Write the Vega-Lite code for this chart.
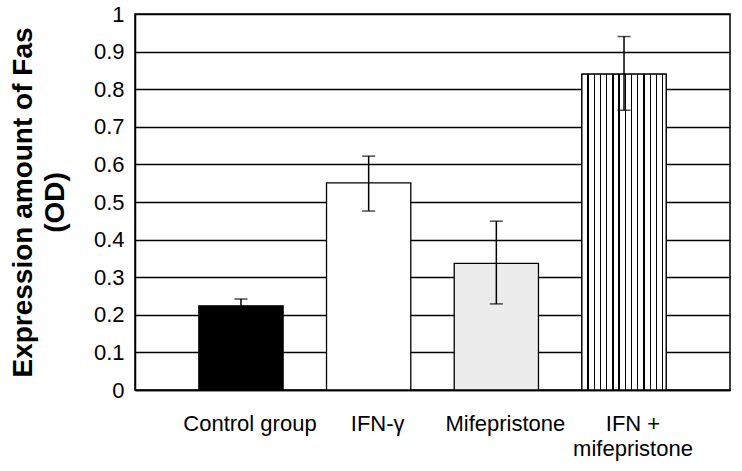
{
  "$schema": "https://vega.github.io/schema/vega-lite/v6.json",
  "width": 595,
  "height": 376,
  "autosize": {"type": "none"},
  "padding": {"left": 135, "top": 14, "right": 12, "bottom": 81},
  "background": "white",
  "config": {
    "view": {"stroke": "black", "strokeWidth": 1.5},
    "font": "Liberation Sans",
    "axisY": {
      "grid": true,
      "gridColor": "black",
      "gridWidth": 1.3,
      "gridOpacity": 1,
      "ticks": false,
      "domainColor": "black",
      "domainWidth": 1.5,
      "labelFontSize": 22,
      "labelColor": "black",
      "labelPadding": 11,
      "labelOverlap": false,
      "titleFontSize": 28,
      "titleFontWeight": "bold",
      "titleColor": "black",
      "titleLineHeight": 32,
      "titlePadding": 24
    }
  },
  "data": {
    "values": [
      {"group": "Control group", "mean": 0.224, "lo": 0.206, "hi": 0.242},
      {"group": "IFN-γ", "mean": 0.551, "lo": 0.476, "hi": 0.622},
      {"group": "Mifepristone", "mean": 0.337, "lo": 0.229, "hi": 0.449},
      {"group": "IFN + mifepristone", "mean": 0.840, "lo": 0.744, "hi": 0.940}
    ]
  },
  "encoding": {
    "x": {
      "field": "group",
      "type": "nominal",
      "sort": null,
      "scale": {"paddingInner": 0.34, "paddingOuter": 0.5},
      "axis": {
        "title": null,
        "labelAngle": 0,
        "labelFontSize": 22,
        "labelColor": "black",
        "labelPadding": 23,
        "labelOffset": 9,
        "labelLineHeight": 25,
        "ticks": false,
        "domainColor": "black",
        "domainWidth": 1.5,
        "labelExpr": "datum.value === 'IFN + mifepristone' ? ['IFN +', 'mifepristone'] : datum.value"
      }
    }
  },
  "layer": [
    {
      "mark": {"type": "bar", "stroke": "black", "strokeWidth": 1.3},
      "encoding": {
        "y": {
          "field": "mean",
          "type": "quantitative",
          "scale": {"domain": [0, 1]},
          "axis": {
            "values": [0, 0.1, 0.2, 0.3, 0.4, 0.5, 0.6, 0.7, 0.8, 0.9, 1],
            "format": "~g",
            "title": ["Expression amount of Fas", "(OD)"]
          }
        },
        "fill": {
          "field": "group",
          "type": "nominal",
          "scale": {
            "domain": ["Control group", "IFN-γ", "Mifepristone", "IFN + mifepristone"],
            "range": ["#000000", "#ffffff", "#ececec", "#ffffff"]
          },
          "legend": null
        }
      }
    },
    {
      "transform": [{"filter": "datum.group === 'IFN + mifepristone'"}],
      "mark": {
        "type": "bar",
        "stroke": "black",
        "strokeWidth": 1.3,
        "fill": {
          "gradient": "linear",
          "x1": 0, "x2": 1, "y1": 0, "y2": 0,
          "stops": [
            {"offset": 0, "color": "white"},
            {"offset": 0.066, "color": "white"}, {"offset": 0.066, "color": "black"}, {"offset": 0.082, "color": "black"}, {"offset": 0.082, "color": "white"},
            {"offset": 0.140, "color": "white"}, {"offset": 0.140, "color": "black"}, {"offset": 0.156, "color": "black"}, {"offset": 0.156, "color": "white"},
            {"offset": 0.213, "color": "white"}, {"offset": 0.213, "color": "black"}, {"offset": 0.229, "color": "black"}, {"offset": 0.229, "color": "white"},
            {"offset": 0.287, "color": "white"}, {"offset": 0.287, "color": "black"}, {"offset": 0.303, "color": "black"}, {"offset": 0.303, "color": "white"},
            {"offset": 0.361, "color": "white"}, {"offset": 0.361, "color": "black"}, {"offset": 0.377, "color": "black"}, {"offset": 0.377, "color": "white"},
            {"offset": 0.434, "color": "white"}, {"offset": 0.434, "color": "black"}, {"offset": 0.450, "color": "black"}, {"offset": 0.450, "color": "white"},
            {"offset": 0.508, "color": "white"}, {"offset": 0.508, "color": "black"}, {"offset": 0.524, "color": "black"}, {"offset": 0.524, "color": "white"},
            {"offset": 0.582, "color": "white"}, {"offset": 0.582, "color": "black"}, {"offset": 0.598, "color": "black"}, {"offset": 0.598, "color": "white"},
            {"offset": 0.655, "color": "white"}, {"offset": 0.655, "color": "black"}, {"offset": 0.671, "color": "black"}, {"offset": 0.671, "color": "white"},
            {"offset": 0.729, "color": "white"}, {"offset": 0.729, "color": "black"}, {"offset": 0.745, "color": "black"}, {"offset": 0.745, "color": "white"},
            {"offset": 0.803, "color": "white"}, {"offset": 0.803, "color": "black"}, {"offset": 0.819, "color": "black"}, {"offset": 0.819, "color": "white"},
            {"offset": 0.876, "color": "white"}, {"offset": 0.876, "color": "black"}, {"offset": 0.892, "color": "black"}, {"offset": 0.892, "color": "white"},
            {"offset": 0.950, "color": "white"}, {"offset": 0.950, "color": "black"}, {"offset": 0.966, "color": "black"}, {"offset": 0.966, "color": "white"},
            {"offset": 1, "color": "white"}
          ]
        }
      },
      "encoding": {
        "y": {
          "field": "mean",
          "type": "quantitative",
          "axis": {
            "values": [0, 0.1, 0.2, 0.3, 0.4, 0.5, 0.6, 0.7, 0.8, 0.9, 1],
            "format": "~g",
            "title": ["Expression amount of Fas", "(OD)"]
          }
        }
      }
    },
    {
      "mark": {"type": "rule", "color": "black", "strokeWidth": 1.5},
      "encoding": {
        "y": {
          "field": "lo",
          "type": "quantitative",
          "axis": {
            "values": [0, 0.1, 0.2, 0.3, 0.4, 0.5, 0.6, 0.7, 0.8, 0.9, 1],
            "format": "~g",
            "title": ["Expression amount of Fas", "(OD)"]
          }
        },
        "y2": {"field": "hi"}
      }
    },
    {
      "mark": {"type": "tick", "color": "black", "size": 13, "thickness": 1.5},
      "encoding": {
        "y": {
          "field": "hi",
          "type": "quantitative",
          "axis": {
            "values": [0, 0.1, 0.2, 0.3, 0.4, 0.5, 0.6, 0.7, 0.8, 0.9, 1],
            "format": "~g",
            "title": ["Expression amount of Fas", "(OD)"]
          }
        }
      }
    },
    {
      "mark": {"type": "tick", "color": "black", "size": 13, "thickness": 1.5},
      "encoding": {
        "y": {
          "field": "lo",
          "type": "quantitative",
          "axis": {
            "values": [0, 0.1, 0.2, 0.3, 0.4, 0.5, 0.6, 0.7, 0.8, 0.9, 1],
            "format": "~g",
            "title": ["Expression amount of Fas", "(OD)"]
          }
        }
      }
    }
  ]
}
